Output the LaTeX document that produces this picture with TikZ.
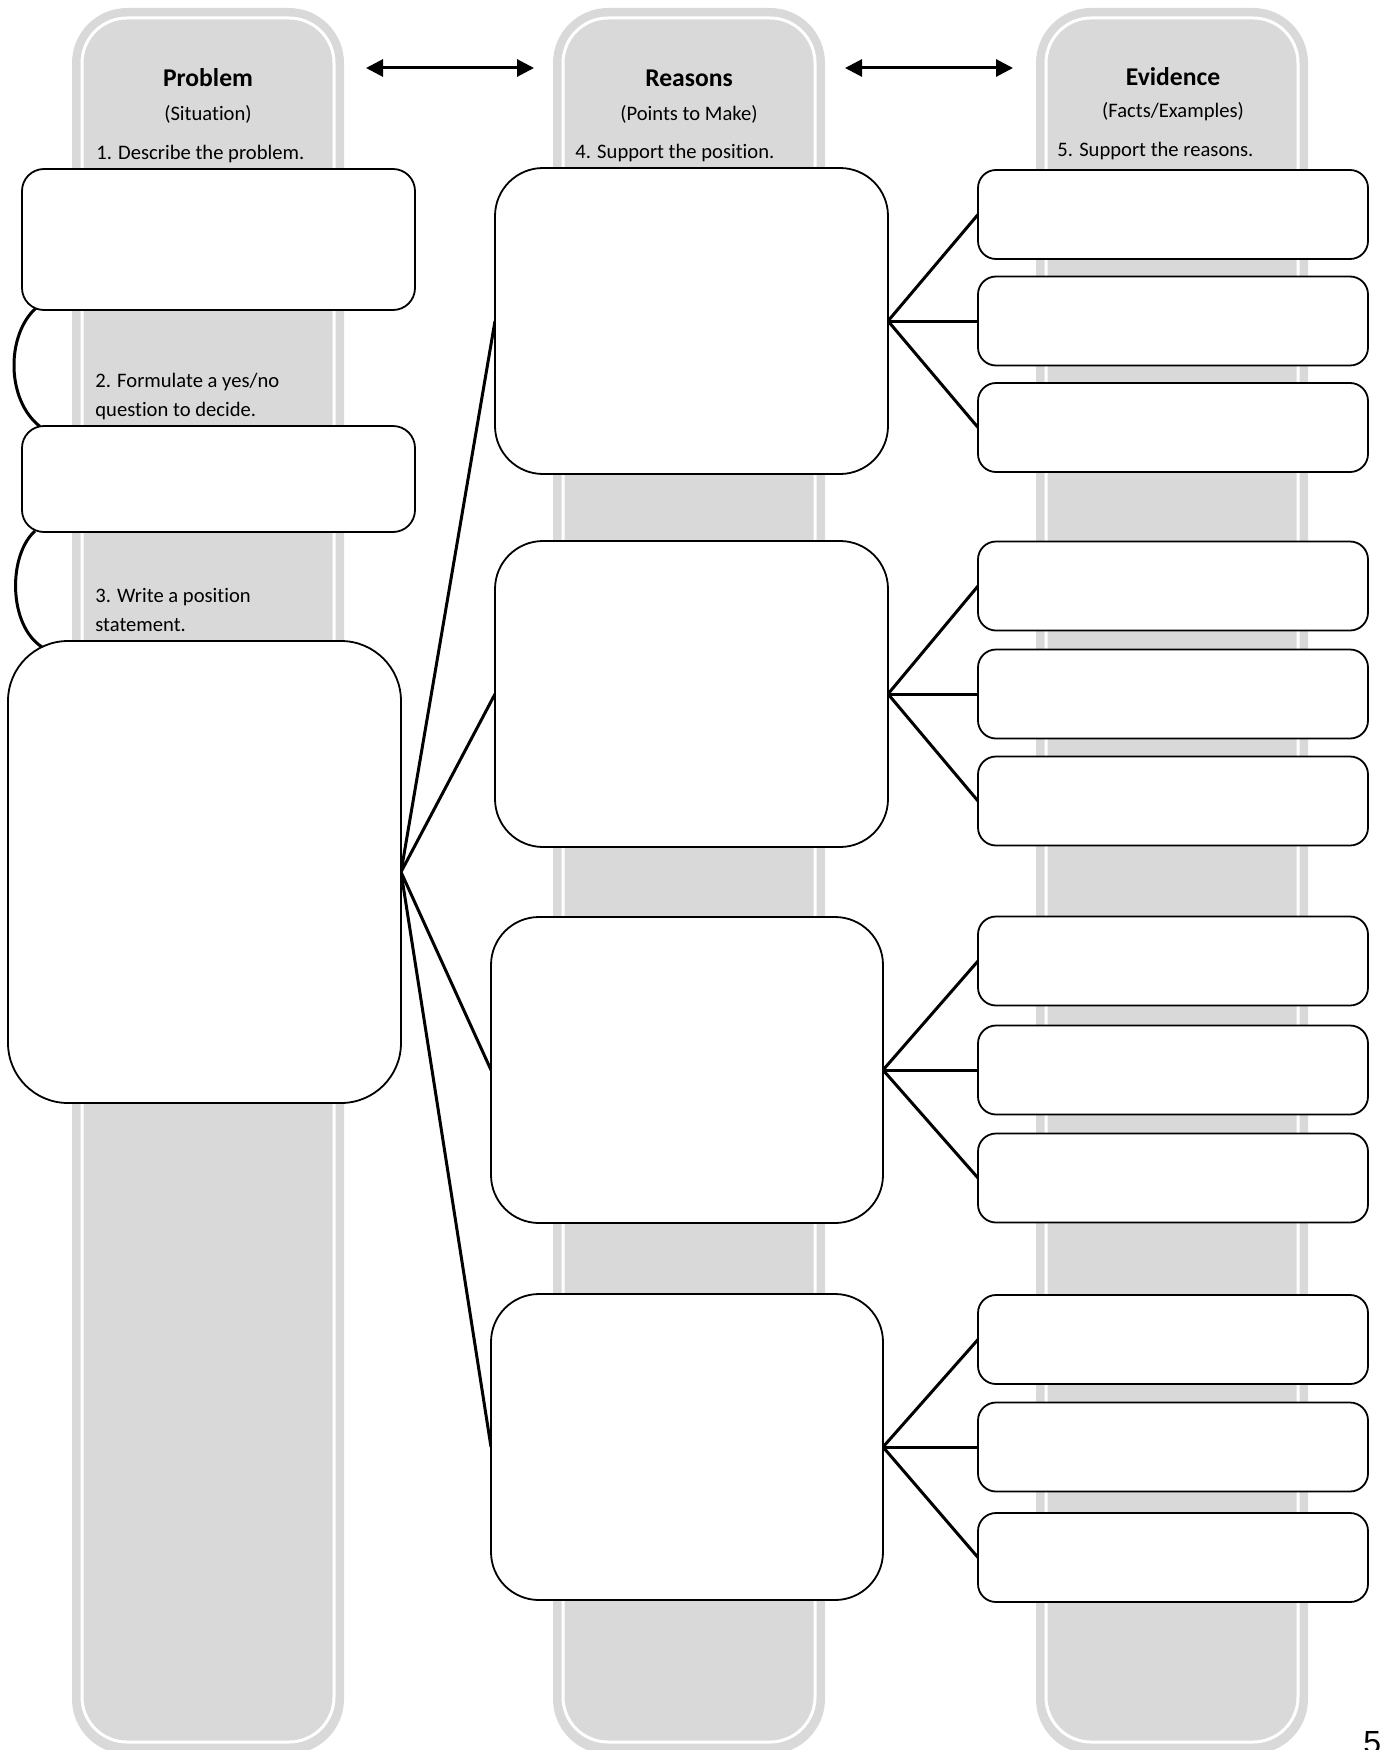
\documentclass[tikz,border=0pt]{standalone}
\usepackage{fontspec}
\setmainfont{Carlito}[Ligatures=NoCommon]
\newfontfamily\pagefont{Liberation Sans}
\usetikzlibrary{arrows.meta,calc}
\definecolor{colgray}{HTML}{D9D9D9}
\pgfdeclarelayer{bg}
\pgfsetlayers{bg,main}
\begin{document}
\begin{tikzpicture}[x=0.5pt,y=-0.5pt,
  colfill/.style={fill=colgray, rounded corners=27.5pt},
  colline/.style={draw=white, line width=1.5pt, rounded corners=22.5pt},
  head/.style={font=\fontsize{12.8pt}{15pt}\selectfont\bfseries, inner sep=0, anchor=base},
  sub/.style={font=\fontsize{10.3pt}{14pt}\selectfont, inner sep=0, anchor=base},
  steptext/.style={font=\fontsize{10.3pt}{14pt}\selectfont, inner sep=0, anchor=base west},
  box/.style={draw=black, fill=white, line width=0.9pt, inner sep=0, outer sep=0},
  pbox/.style={box, rounded corners=11pt, minimum width=196.5pt},
  rbox/.style={box, rounded corners=24pt, minimum width=196.5pt, minimum height=153pt},
  ebox/.style={box, rounded corners=9pt, minimum width=195pt, minimum height=44.5pt},
  conn/.style={draw=black, line width=1.5pt},
  dblarrow/.style={draw=black, line width=1.5pt, {Triangle[length=8.5pt,width=8.5pt]}-{Triangle[length=8.5pt,width=8.5pt]}}
]
\useasboundingbox (0,0) rectangle (1380,1750);

% columns
\begin{pgfonlayer}{bg}
\foreach \cx in {72,553,1036}{
  \path[colfill] (\cx,8) rectangle ++(272,1746);
  \path[colline] ($(\cx,8)+(10,10)$) rectangle ($(\cx,8)+(262,1734)$);
}
\end{pgfonlayer}

% headings
\node[head] (h1) at (208,87) {Problem};
\node[sub] (s1) at (208,120) {(Situation)};
\node[steptext] (t1) at (96,159) {1. Describe the problem.};
\node[head] (h2) at (689,87) {Reasons};
\node[sub] (s2) at (689,120) {(Points to Make)};
\node[steptext] (t4) at (575,158) {4. Support the position.};
\node[head] (h3) at (1173,86) {Evidence};
\node[sub] (s3) at (1173,117.5) {(Facts/Examples)};
\node[steptext] (t5) at (1057,156) {5. Support the reasons.};
\node[steptext] (t2a) at (95,387) {2. Formulate a yes/no};
\node[steptext] (t2b) at (95,416) {question to decide.};
\node[steptext] (t3a) at (95,602) {3. Write a position};
\node[steptext] (t3b) at (95,631) {statement.};

% arrows
\coordinate (a1l) at (366,68);
\coordinate (a1r) at (534,68);
\coordinate (a2l) at (845,68);
\coordinate (a2r) at (1013,68);
\draw[dblarrow] (a1l) -- (a1r);
\draw[dblarrow] (a2l) -- (a2r);

% problem boxes
\node[pbox, minimum height=70.5pt] (P1) at (218.5,239.5) {};
\node[pbox, minimum height=53pt] (P2) at (218.5,479) {};
\node[box, rounded corners=30pt, minimum width=196.5pt, minimum height=231pt] (P3) at (204.5,872) {};

% reasons boxes
\node[rbox] (R1) at (691.5,321) {};
\node[rbox] (R2) at (691.5,694) {};
\node[rbox, minimum width=196pt] (R3) at (687,1070) {};
\node[rbox, minimum width=196pt] (R4) at (687,1447) {};

% evidence boxes
\foreach \n/\yy in {1/214.5,2/321,3/427.5,4/586,5/694,6/801,7/961,8/1070,9/1178,10/1339.5,11/1447,12/1557.5}{
  \node[ebox] (E\n) at (1173,\yy) {};
}

% page number
\node[font=\pagefont\fontsize{16pt}{18pt}\selectfont, anchor=base west, inner sep=0] (pg) at (1363,1753) {5};

% connectors
\begin{pgfonlayer}{bg}
\draw[conn] ($(P1.south west)+(14,-2)$) .. controls ($(P1.south west)+(-16,25)$) and ($(P2.north west)+(-16,-26)$) .. ($(P2.north west)+(18,0.5)$);
\draw[conn] ($(P2.south west)+(13,-1)$) .. controls ($(P2.south west)+(-14,23)$) and ($(P3.north west)+(0,-16)$) .. ($(P3.north west)+(34,6)$);
\foreach \r in {1,2,3,4}{
  \draw[conn] (P3.east) -- (R\r.west);
}
\foreach \r/\a/\b/\c in {1/1/2/3,2/4/5/6,3/7/8/9,4/10/11/12}{
  \draw[conn] (R\r.east) -- (E\a.west);
  \draw[conn] (R\r.east) -- (E\b.west);
  \draw[conn] (R\r.east) -- (E\c.west);
}
\end{pgfonlayer}
\end{tikzpicture}
\end{document}
